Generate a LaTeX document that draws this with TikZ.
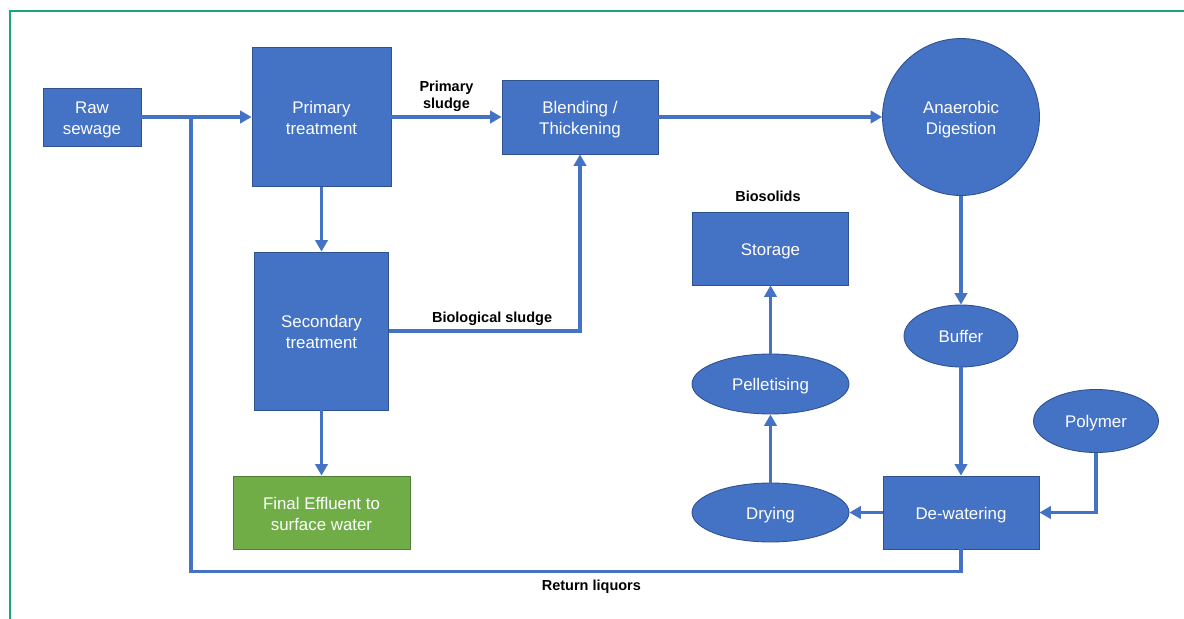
\documentclass[tikz,border=0pt]{standalone}
\usepackage{fontspec}
\setmainfont{Liberation Sans}
\usetikzlibrary{arrows.meta,shapes.geometric}
\definecolor{boxblue}{HTML}{4472C4}
\definecolor{boxedge}{HTML}{2F528F}
\definecolor{effgreen}{HTML}{70AD47}
\definecolor{effedge}{HTML}{507E32}
\definecolor{framegreen}{HTML}{1AA67D}

\begin{document}
\begin{tikzpicture}[x=0.02cm,y=-0.02cm,
  proc/.style={rectangle,draw=boxedge,fill=boxblue,line width=0.5pt,text=white,
    align=center,inner sep=0pt,font=\fontsize{9.6}{11.9}\selectfont,
    text height=22.2pt,text depth=2pt},
  single/.style={text height=9.8pt,text depth=2pt},
  oval/.style={proc,ellipse,single},
  flow/.style={draw=boxblue,line width=2pt,-{Triangle[length=6.5pt,width=7pt]}},
  pipe/.style={draw=boxblue,line width=2pt},
  lbl/.style={font=\bfseries\fontsize{8.25}{9.7}\selectfont,align=center}]
  \useasboundingbox (0,0) rectangle (1184,619);
  \draw[framegreen,line width=1.2pt] (10,619) -- (10,11) -- (1184,11);
  % treatment train
  \node[proc,minimum width=1.96cm,minimum height=1.16cm] (raw) at (92,117) {Raw\\sewage};
  \node[proc,minimum width=2.78cm,minimum height=2.78cm] (prim) at (321.5,117) {Primary\\treatment};
  \node[proc,minimum width=3.12cm,minimum height=1.48cm] (blend) at (580,117) {Blending /\\Thickening};
  \node[proc,circle,minimum size=3.14cm] (ad) at (961,117) {Anaerobic\\Digestion};
  \node[proc,minimum width=2.68cm,minimum height=3.16cm] (sec) at (321.5,331) {Secondary\\treatment};
  \node[proc,fill=effgreen,draw=effedge,minimum width=3.54cm,minimum height=1.46cm] (eff) at (321.5,512.5) {Final Effluent to\\surface water};
  % sludge line
  \node[lbl] (biosol) at (768,196) {Biosolids};
  \node[proc,single,minimum width=3.12cm,minimum height=1.46cm] (stor) at (770.5,248.5) {Storage};
  \node[oval,minimum width=2.28cm,minimum height=1.24cm] (buf) at (961,336) {Buffer};
  \node[oval,minimum width=3.14cm,minimum height=1.2cm] (pel) at (770.5,384) {Pelletising};
  \node[oval,minimum width=2.5cm,minimum height=1.26cm] (poly) at (1096,421) {Polymer};
  \node[oval,minimum width=3.14cm,minimum height=1.18cm] (dry) at (770.5,512.5) {Drying};
  \node[proc,single,minimum width=3.12cm,minimum height=1.46cm] (dew) at (961,512.5) {De-watering};
  \coordinate (tee) at (191,117);

  \draw[flow] (raw) -- (prim);
  \draw[flow] (prim) -- node[lbl,above=-1pt]{Primary\\sludge} (blend);
  \draw[flow] (blend) -- (ad);
  \draw[flow] (prim) -- (sec);
  \draw[flow] (sec) -- (eff);
  \draw[flow] (sec.east) -| node[lbl,above=-1pt,pos=0.27]{Biological sludge} (blend.south);
  \draw[flow] (ad) -- (buf);
  \draw[flow] (buf) -- (dew);
  \draw[flow] (poly.south) |- (dew.east);
  \draw[flow] (dew) -- (dry);
  \draw[flow] (dry) -- (pel);
  \draw[flow] (pel) -- (stor);
  \draw[pipe] (dew.south) -- ++(0,22) -| node[lbl,below=0.5pt,pos=0.24]{Return liquors} (tee);
\end{tikzpicture}
\end{document}
